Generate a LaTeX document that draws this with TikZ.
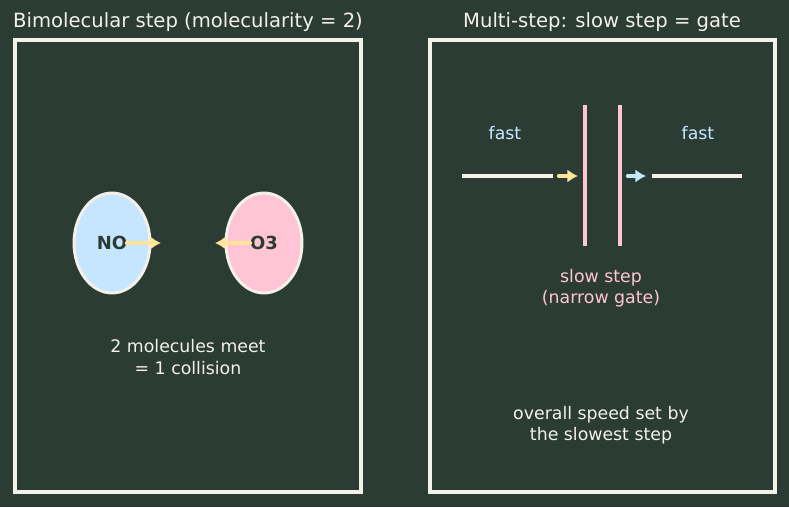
\documentclass[tikz,border=0pt]{standalone}
\usepackage{fontspec}
\setmainfont{DejaVu Sans}
\usetikzlibrary{positioning}
\usetikzlibrary{arrows.meta}
\usetikzlibrary{shapes.geometric}

\definecolor{board}{HTML}{2B3C34}
\definecolor{chalk}{HTML}{F3F1E8}
\definecolor{skyblue}{HTML}{C6E6FF}
\definecolor{rosepink}{HTML}{FFC4D6}
\definecolor{butter}{HTML}{FFE49A}

\begin{document}
\begin{tikzpicture}
    [
    x=0.75pt,y=-0.75pt,
    panel/.style={draw=chalk,line width=2.4pt},
    title/.style={text=chalk,font=\fontsize{14.7}{17}\selectfont},
    molecule/.style={ellipse,draw=chalk,line width=2.2pt,minimum width=57pt,minimum height=75pt,inner sep=0pt,font=\bfseries\fontsize{13.5}{16}\selectfont,text=board},
    caption/.style={align=center,font=\fontsize{13}{15.8}\selectfont},
    push/.style={-{Latex[length=8pt,width=10pt]},line width=3.3pt,line cap=round},
    lane/.style={draw=chalk,line width=2.6pt},
    gate/.style={draw=rosepink,line width=3.6pt}
    ]
    \fill [board] (0,0) rectangle (789,507);
    % left panel
    \node (ltitle) at (188,22) [title] {Bimolecular step (molecularity = 2)};
    \draw [panel] (15,40) rectangle (361,492);
    \node (no) at (112,243) [molecule,fill=skyblue] {NO};
    \node (o3) at (264,243) [molecule,fill=rosepink] {O3};
    \coordinate (nohead) at (161,243);
    \coordinate (o3head) at (215,243);
    \draw [push,butter] (127,243) -- (nohead);
    \draw [push,butter] (250,243) -- (o3head);
    \node (meet) at (188,357) [caption,text=chalk] {2 molecules meet\\= 1 collision};
    % right panel
    \node (rtitle) at (602,22) [title] {Multi-step: slow step = gate};
    \draw [panel] (430,40) rectangle (775,492);
    \node (fastin) at (505,133) [caption,text=skyblue] {fast};
    \node (fastout) at (698,133) [caption,text=skyblue] {fast};
    \coordinate (inA) at (462,176);
    \coordinate (inB) at (553,176);
    \coordinate (outA) at (652,176);
    \coordinate (outB) at (742,176);
    \draw [lane] (inA) -- (inB);
    \draw [lane] (outA) -- (outB);
    \coordinate (gateL) at (585,105);
    \coordinate (gateR) at (620,105);
    \draw [gate] (gateL) -- ++(0,141);
    \draw [gate] (gateR) -- ++(0,141);
    \draw [push,butter] (559,176) -- (578,176);
    \draw [push,skyblue] (628,176) -- (646,176);
    \node (slow) at (601,288) [caption,text=rosepink] {slow step\\(narrow gate)};
    \node (overall) at (601,425) [caption,text=chalk] {overall speed set by\\the slowest step};
\end{tikzpicture}
\end{document}
